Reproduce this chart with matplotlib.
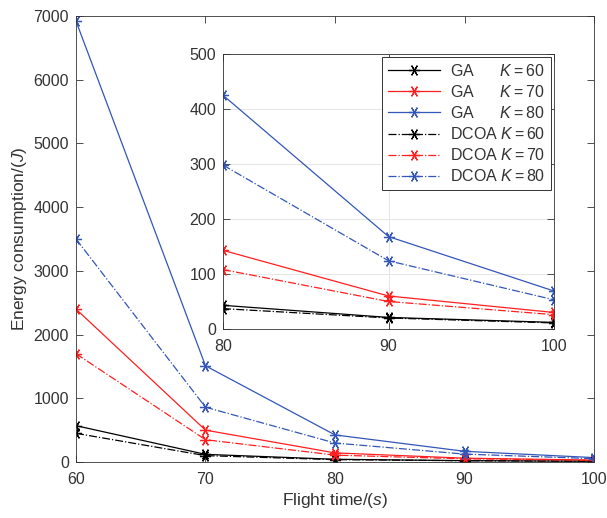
import matplotlib
matplotlib.use("Agg")
import matplotlib.pyplot as plt
import numpy as np

plt.rcParams["font.family"] = ["Liberation Sans", "DejaVu Sans"]
plt.rcParams["mathtext.fontset"] = "custom"
plt.rcParams["mathtext.it"] = "Liberation Sans:italic"
plt.rcParams["mathtext.rm"] = "Liberation Sans"

TEXT = "#333333"

flight_time = [60, 70, 80, 90, 100]

ga_k60 = [570, 120, 43, 21, 12]
ga_k70 = [2400, 500, 143, 60, 30]
ga_k80 = [6920, 1510, 425, 168, 69]
dcoa_k60 = [450, 100, 37, 20, 11]
dcoa_k70 = [1700, 350, 108, 50, 26]
dcoa_k80 = [3500, 860, 298, 124, 53]

labels = [
    r"GA      $\mathit{K{=}60}$",
    r"GA      $\mathit{K{=}70}$",
    r"GA      $\mathit{K{=}80}$",
    r"DCOA $\mathit{K{=}60}$",
    r"DCOA $\mathit{K{=}70}$",
    r"DCOA $\mathit{K{=}80}$",
]
series = [ga_k60, ga_k70, ga_k80, dcoa_k60, dcoa_k70, dcoa_k80]
colors = ["black", "#ff1f1f", "#3356b8", "black", "#ff1f1f", "#3356b8"]
styles = ["-", "-", "-", "-.", "-.", "-."]

asterisk = (6, 2, 90)


def style_axes(ax):
    ax.tick_params(direction="in", top=True, right=True, colors=TEXT,
                   labelsize=11.5, length=5, width=0.6)
    ax.tick_params(axis="x", pad=7)
    ax.tick_params(axis="y", pad=5)
    for s in ax.spines.values():
        s.set_color(TEXT)
        s.set_linewidth(0.6)


def draw(ax, idx):
    for ys, c, ls, lab in zip(series, colors, styles, labels):
        ax.plot(np.array(flight_time)[idx], np.array(ys)[idx], ls, color=c,
                marker=asterisk, markersize=8, markeredgewidth=0.9,
                linewidth=0.9, label=lab)


fig = plt.figure(figsize=(6.07, 5.18), dpi=100)
ax = fig.add_axes([0.1252, 0.1081, 0.8534, 0.861])
draw(ax, slice(0, 5))
ax.set_xlim(60, 100)
ax.set_ylim(0, 7000)
ax.set_xticks([60, 70, 80, 90, 100])
ax.set_yticks(np.arange(0, 7001, 1000))
ax.set_xlabel(r"Flight time/($s$)", fontsize=12.5, color=TEXT, labelpad=3)
ax.set_ylabel(r"Energy consumption/($J$)", fontsize=12.5, color=TEXT, labelpad=3)
style_axes(ax)

# zoomed view of the last three flight times
inset = fig.add_axes([0.3674, 0.3649, 0.5453, 0.5309])
draw(inset, slice(2, 5))
inset.set_xlim(80, 100)
inset.set_ylim(0, 500)
inset.set_xticks([80, 90, 100])
inset.set_yticks(np.arange(0, 501, 100))
inset.grid(True, color="#e6e6e6", linewidth=0.7)
inset.set_axisbelow(True)
style_axes(inset)

leg = inset.legend(loc="upper right", fontsize=11.5, handlelength=3.3,
                   labelspacing=0.32, borderaxespad=0.2, fancybox=False,
                   framealpha=1, edgecolor=TEXT, borderpad=0.35,
                   handletextpad=0.6)
leg.get_frame().set_linewidth(0.7)
for t in leg.get_texts():
    t.set_color(TEXT)

fig.savefig("out.png", dpi=100)
